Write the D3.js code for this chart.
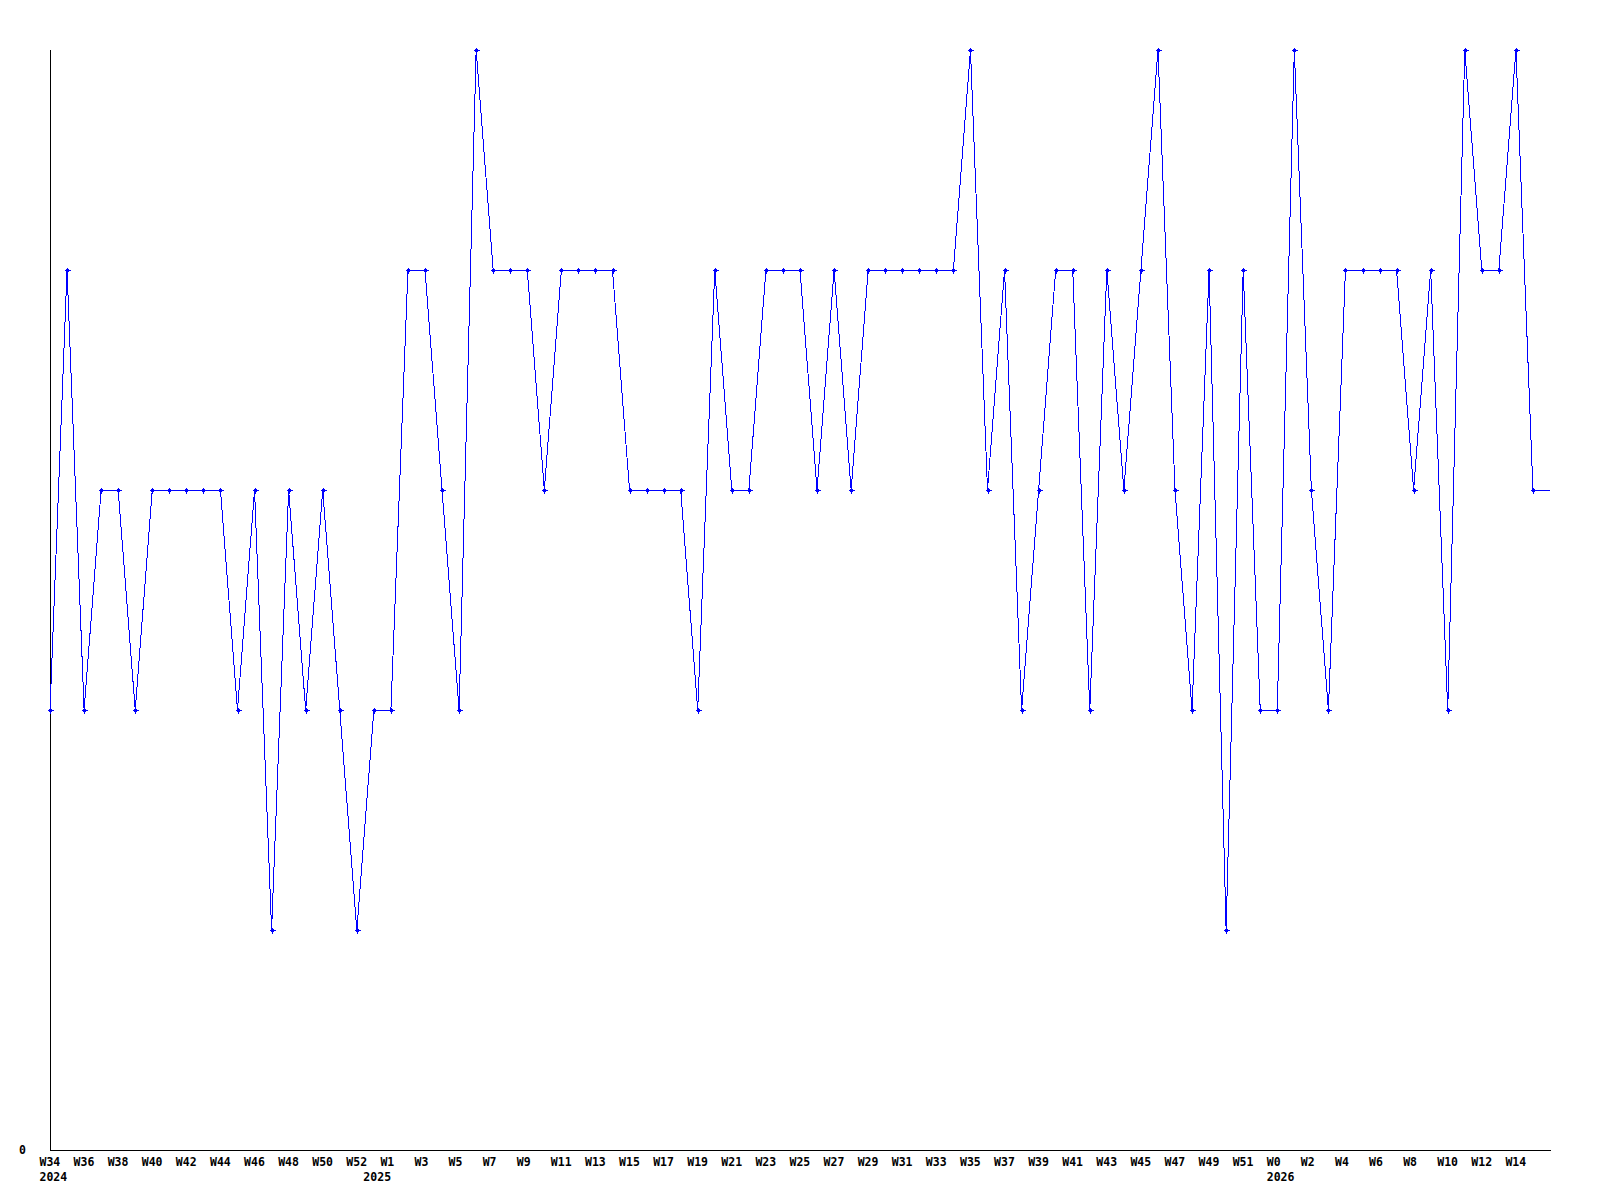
<!DOCTYPE html>
<html>
<head>
<meta charset="utf-8">
<script src="https://cdn.jsdelivr.net/npm/d3@7"></script>
<style>
  body { margin: 0; background: #fff; }
  svg { display: block; }
  .lbl { font-family: "DejaVu Sans Mono", monospace; font-weight: bold; font-size: 11.5px; fill: #000; }
</style>
</head>
<body>
<div class="chart"></div>
<script>
// weekly values, 2024 W34 .. 2026 W15
var weekLabels = [
  "W34","W35","W36","W37","W38","W39","W40","W41","W42","W43","W44","W45","W46","W47","W48","W49","W50","W51","W52",
  "W0","W1","W2","W3","W4","W5","W6","W7","W8","W9","W10","W11","W12","W13","W14","W15","W16","W17","W18","W19","W20",
  "W21","W22","W23","W24","W25","W26","W27","W28","W29","W30","W31","W32","W33","W34","W35","W36","W37","W38","W39","W40",
  "W41","W42","W43","W44","W45","W46","W47","W48","W49","W50","W51","W52",
  "W0","W1","W2","W3","W4","W5","W6","W7","W8","W9","W10","W11","W12","W13","W14","W15"
];
var years = [];
weekLabels.forEach(function (w, i) { years.push(i < 19 ? "2024" : (i < 72 ? "2025" : "2026")); });

var values = [
  2,4,2,3,3,2,3,3,3,3,3,2,3,1,3,2,3,2,1,2,
  2,4,4,3,2,5,4,4,4,3,4,4,4,4,3,3,3,3,2,4,
  3,3,4,4,4,3,4,3,4,4,4,4,4,4,5,3,4,2,3,4,
  4,2,4,3,4,5,3,2,4,1,4,2,2,5,3,2,4,4,4,4,
  3,4,2,5,4,4,5,3
];
var yTicks = [0];

var width = 1600, height = 1200;
var plotLeft = 50, plotRight = 1550, plotTop = 50, plotBottom = 1150;

var x = d3.scaleLinear().domain([0, values.length]).range([plotLeft, plotRight]);
var y = d3.scaleLinear().domain([0, 5]).range([plotBottom, plotTop]);

var svg = d3.select(".chart").append("svg")
  .attr("width", width)
  .attr("height", height);

// axes (plain lines, no tick marks)
svg.append("line")
  .attr("x1", plotLeft + 0.5).attr("x2", plotLeft + 0.5)
  .attr("y1", plotTop).attr("y2", plotBottom + 0.5)
  .attr("stroke", "#000").attr("shape-rendering", "crispEdges");
svg.append("line")
  .attr("x1", plotLeft).attr("x2", plotRight + 1)
  .attr("y1", plotBottom + 0.5).attr("y2", plotBottom + 0.5)
  .attr("stroke", "#000").attr("shape-rendering", "crispEdges");

svg.selectAll(".ylbl")
  .data(yTicks)
  .enter()
  .append("text")
  .attr("class", "lbl ylbl")
  .attr("x", 26)
  .attr("y", function (d) { return y(d) + 4; })
  .attr("text-anchor", "end")
  .text(function (d) { return d; });

// week labels on every other week
svg.selectAll(".xlbl")
  .data(weekLabels.map(function (w, i) { return { w: w, i: i }; })
    .filter(function (d) { return d.i % 2 === 0; }))
  .enter()
  .append("text")
  .attr("class", "lbl xlbl")
  .attr("x", function (d) { return x(d.i) - 10.5; })
  .attr("y", 1166)
  .text(function (d) { return d.w; });

// year label at the first week of each year
svg.selectAll(".year")
  .data(years.map(function (yr, i) { return { yr: yr, i: i }; })
    .filter(function (d) { return d.i === 0 || years[d.i - 1] !== d.yr; }))
  .enter()
  .append("text")
  .attr("class", "lbl year")
  .attr("x", function (d) { return x(d.i) - 10.5; })
  .attr("y", 1181)
  .text(function (d) { return d.yr; });

// series line, carried flat to the right edge
var pts = values.map(function (v, i) { return [x(i), y(v)]; });
pts.push([x(values.length), y(values[values.length - 1])]);

svg.append("path")
  .attr("d", d3.line()(pts))
  .attr("fill", "none")
  .attr("stroke", "#0000ff")
  .attr("stroke-width", 1)
  .attr("shape-rendering", "crispEdges");

// small plus markers
svg.selectAll(".dot")
  .data(values)
  .enter()
  .append("path")
  .attr("class", "dot")
  .attr("transform", function (d, i) {
    return "translate(" + Math.round(x(i)) + "," + Math.round(y(d)) + ")";
  })
  .attr("d", "M-2.5,0.5H3.5M0.5,-2.5V3.5M-0.5,-0.5h2v2h-2z")
  .attr("fill", "#0000ff")
  .attr("stroke", "#0000ff")
  .attr("stroke-width", 1)
  .attr("shape-rendering", "crispEdges");
</script>
</body>
</html>
